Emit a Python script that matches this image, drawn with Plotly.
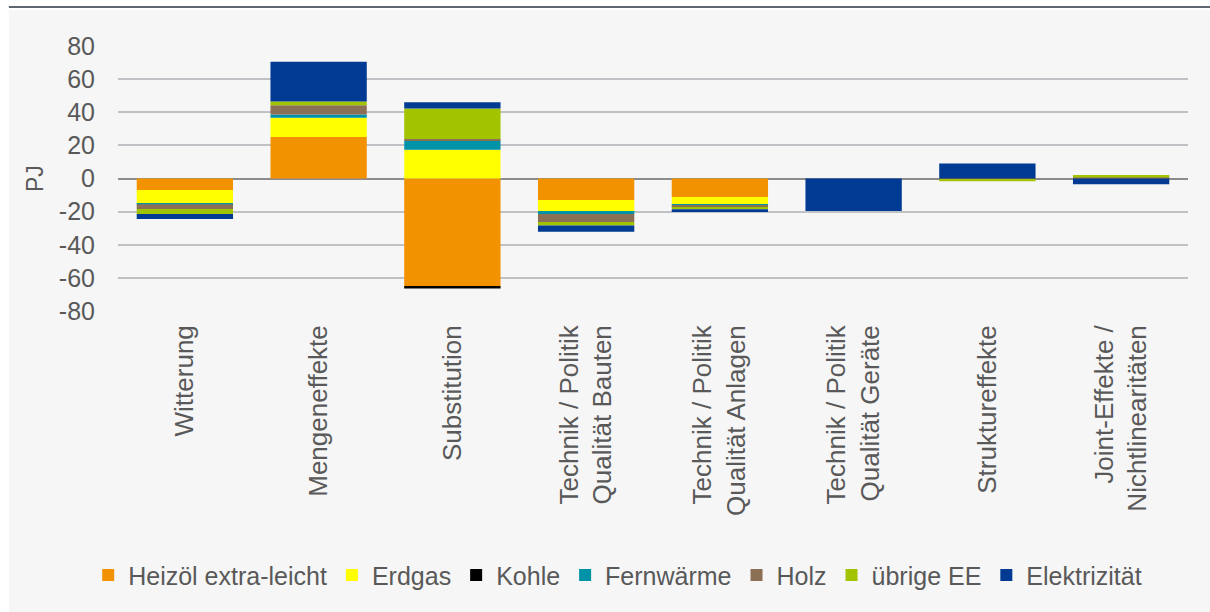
import plotly.graph_objects as go

# categories (x axis)
kategorien = [
    "Witterung",
    "Mengeneffekte",
    "Substitution",
    "Technik / Politik<br>Qualität Bauten",
    "Technik / Politik<br>Qualität Anlagen",
    "Technik / Politik<br>Qualität Geräte",
    "Struktureffekte",
    "Joint-Effekte /<br>Nichtlinearitäten",
]

# values in PJ, one list per energy carrier
heizoel = [-7.0, 25.0, -65.4, -13.0, -11.1, 0.0, 0.0, 0.0]
erdgas = [-7.8, 11.7, 17.3, -6.6, -4.6, 0.0, 0.0, 0.0]
kohle = [0.0, 0.0, -1.0, 0.0, 0.0, 0.0, 0.0, 0.0]
fernwaerme = [-0.8, 2.0, 5.6, -1.8, -0.3, 0.0, 0.0, 0.0]
holz = [-2.8, 5.6, 1.0, -4.8, -1.6, 0.0, -0.7, 0.6]
uebrige_ee = [-3.0, 2.2, 18.3, -2.2, -1.0, 0.0, -1.0, 1.5]
elektrizitaet = [-3.0, 24.0, 3.8, -3.8, -1.6, -19.6, 9.0, -3.4]

y_ticks = [-80, -60, -40, -20, 0, 20, 40, 60, 80]
y_ticktext = ["-80", "-60", "-40", "-20", "0", "20", "40", "60", "80"]

reihen = [
    ("Heizöl extra-leicht", heizoel, "#F39200"),
    ("Erdgas", erdgas, "#FFFF00"),
    ("Kohle", kohle, "#000000"),
    ("Fernwärme", fernwaerme, "#0093A8"),
    ("Holz", holz, "#8C7055"),
    ("übrige EE", uebrige_ee, "#A2C400"),
    ("Elektrizität", elektrizitaet, "#003A92"),
]

grau = "#595959"
bg = "#F6F6F6"

fig = go.Figure()
for name, werte, farbe in reihen:
    fig.add_trace(go.Bar(
        x=kategorien, y=werte, name=name,
        marker=dict(color=farbe, line=dict(width=0)),
        width=0.72,
    ))

# light panel + top rule like the original frame
fig.add_shape(type="rect", xref="paper", yref="paper",
              x0=-0.102, x1=1.03, y0=-1.2, y1=1.136,
              fillcolor=bg, line=dict(width=0), layer="below")
fig.add_shape(type="line", xref="paper", yref="paper",
              x0=-0.102, x1=1.03, y0=1.147, y1=1.147,
              line=dict(color="#5F6670", width=2), layer="below")

# y axis title placed by hand
fig.add_annotation(text="PJ", xref="paper", yref="y", x=-0.078, y=0,
                   xanchor="center", yanchor="middle", textangle=-90,
                   showarrow=False, font=dict(size=23, color=grau))

fig.update_layout(
    width=1210, height=612,
    barmode="relative",
    paper_bgcolor="white",
    plot_bgcolor=bg,
    margin=dict(l=118, r=22, t=46, b=301, autoexpand=False),
    font=dict(family="Liberation Sans, Arial, sans-serif", color=grau, size=22),
    showlegend=True,
    legend=dict(
        orientation="h", x=0.467, xanchor="center",
        yref="container", y=0.06, yanchor="middle",
        font=dict(family="Liberation Sans, Arial, sans-serif", size=25, color=grau),
        bgcolor="rgba(0,0,0,0)", itemwidth=30, traceorder="normal",
    ),
    yaxis=dict(
        range=[-80, 80], tickvals=y_ticks, ticktext=y_ticktext,
        showgrid=True, gridcolor="#BFC1C4", gridwidth=2,
        zeroline=True, zerolinecolor="#8C8C8C", zerolinewidth=2,
        tickfont=dict(size=25, color=grau), ticklabelstandoff=22,
        ticks="", showline=False, automargin=False,
    ),
    xaxis=dict(
        tickangle=-90, tickfont=dict(size=26, color=grau),
        ticklabelstandoff=8,
        showline=False, ticks="", automargin=False,
    ),
)

# page body has a default 8px margin; drop it so the figure sits at 0,0
fig.write_html("out.html", config={"displayModeBar": False},
               post_script="document.body.style.margin='0';")
